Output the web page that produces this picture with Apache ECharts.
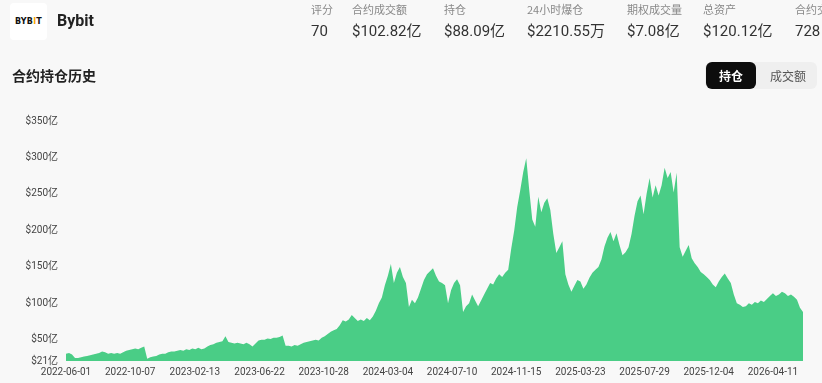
<!DOCTYPE html>
<html>
<head>
<meta charset="utf-8">
<script src="https://cdn.jsdelivr.net/npm/echarts@6/dist/echarts.min.js"></script>
<style>
  html, body { margin: 0; padding: 0; background: #f8f8f8; font-family: Roboto, "Noto Sans CJK SC", sans-serif; }
  #page { position: relative; width: 822px; height: 383px; overflow: hidden; }
  #chart { position: absolute; left: 0; top: 0; width: 822px; height: 383px; }
  .logo { position: absolute; left: 10px; top: 3px; width: 37px; height: 37px; background: #fff; border-radius: 4px;
    font: bold 8px "DejaVu Sans", sans-serif; color: #111; text-align: center; line-height: 37px; letter-spacing: 0.2px; }
  .logo span { color: #f7a600; }
  .name { position: absolute; left: 57px; top: 11px; font: bold 16px Roboto, sans-serif; color: #222; }
  .stat { position: absolute; top: 1px; white-space: nowrap; }
  .stat .k { font-size: 11px; color: #888; line-height: 16px; font-family: "Noto Sans CJK SC", sans-serif; }
  .stat .v { font-size: 15px; color: #333; line-height: 22px; margin-top: 3px; }
  .title { position: absolute; left: 12px; top: 65px; font: bold 14px "Noto Sans CJK SC", sans-serif; color: #222; }
  .toggle { position: absolute; left: 705px; top: 62px; width: 112px; height: 27px; background: #efefef; border-radius: 6px; }
  .toggle .on { position: absolute; left: 1px; top: 0; width: 50px; height: 27px; background: #0d0d0d; border-radius: 6px;
    color: #fff; font: bold 12px "Noto Sans CJK SC", sans-serif; text-align: center; line-height: 27px; }
  .toggle .off { position: absolute; left: 65px; top: 0; height: 27px; color: #555; font: 12px "Noto Sans CJK SC", sans-serif; line-height: 27px; }
</style>
</head>
<body>
<div id="page">
  <div id="chart"></div>
  <div class="logo">BYB<span>I</span>T</div>
  <div class="name">Bybit</div>
  <div id="stats"></div>
  <div class="title">合约持仓历史</div>
  <div class="toggle"><div class="on">持仓</div><div class="off">成交额</div></div>
</div>
<script>
// 顶部指标
const statNames = ['评分', '合约成交额', '持仓', '24小时爆仓', '期权成交量', '总资产', '合约交易对']
const statValues = ['70', '$102.82亿', '$88.09亿', '$2210.55万', '$7.08亿', '$120.12亿', '728']
const statLeft = [311, 352, 444, 527, 627, 703, 795]

// 持仓数据（亿美元），从 2022-06-01 起每 6 天一个点
const startDate = '2022-06-01'
const stepDays = 6
const oiValues = [
  31, 32, 30, 25, 25, 26, 27, 28, 29, 30, 31, 32, 34, 33, 31, 32, 31, 32, 31, 33,
  35, 36, 37, 38, 37, 39, 41, 24, 26, 27, 28, 30, 31, 31, 33, 34, 34, 35, 36, 35,
  37, 36, 38, 37, 39, 37, 38, 41, 43, 44, 46, 47, 48, 55, 47, 46, 45, 46, 45, 44,
  46, 44, 41, 45, 49, 50, 50, 52, 51, 53, 53, 54, 56, 42, 42, 41, 43, 42, 44, 46,
  47, 48, 49, 50, 49, 53, 55, 58, 61, 63, 65, 70, 77, 75, 78, 84, 80, 76, 78, 76,
  80, 77, 82, 90, 100, 108, 125, 138, 154, 128, 142, 150, 136, 128, 95, 105, 100, 108, 120, 132,
  140, 144, 148, 138, 130, 128, 125, 100, 118, 128, 133, 125, 88, 96, 100, 112, 104, 96, 104, 112,
  120, 128, 126, 134, 140, 136, 142, 146, 175, 200, 232, 255, 280, 299, 255, 215, 205, 246, 225, 238,
  244, 228, 195, 169, 177, 185, 140, 126, 116, 124, 132, 130, 120, 126, 135, 142, 146, 150, 160, 178,
  190, 198, 185, 196, 180, 166, 170, 177, 195, 220, 240, 248, 222, 250, 272, 245, 262, 248, 262, 286,
  272, 280, 252, 279, 177, 164, 172, 180, 162, 155, 150, 143, 140, 136, 132, 126, 122, 130, 136, 141,
  134, 128, 112, 100, 98, 95, 96, 100, 98, 102, 100, 104, 102, 106, 110, 114, 110, 112, 116, 114,
  110, 112, 109, 105, 94, 88
]

// 坐标轴刻度
const xTickLabels = ['2022-06-01', '2022-10-07', '2023-02-13', '2023-06-22', '2023-10-28', '2024-03-04',
  '2024-07-10', '2024-11-15', '2025-03-23', '2025-07-29', '2025-12-04', '2026-04-11']
const yTickLabels = [21, 50, 100, 150, 200, 250, 300, 350]

document.getElementById('stats').innerHTML = statNames.map((name, i) =>
  `<div class="stat" style="left:${statLeft[i]}px"><div class="k">${name}</div><div class="v">${statValues[i]}</div></div>`
).join('')

const DAY = 86400000
const t0 = new Date(startDate + 'T00:00:00').getTime()
const seriesData = oiValues.map((v, i) => [t0 + i * stepDays * DAY, v])

const chart = echarts.init(document.getElementById('chart'))
chart.setOption({
  animation: false,
  backgroundColor: 'transparent',
  grid: { left: 66, right: 19, top: 121, bottom: 22 },
  xAxis: {
    type: 'time',
    min: t0,
    max: seriesData[seriesData.length - 1][0],
    axisLine: { show: false },
    axisTick: { show: false },
    splitLine: { show: false },
    axisLabel: {
      customValues: xTickLabels.map(d => new Date(d + 'T00:00:00').getTime()),
      formatter: '{yyyy}-{MM}-{dd}',
      color: '#444',
      fontSize: 10,
      fontFamily: 'Roboto',
      margin: 6,
      hideOverlap: false
    }
  },
  yAxis: {
    type: 'value',
    min: 21,
    max: 350,
    axisLine: { show: false },
    axisTick: { show: false },
    splitLine: { show: false },
    axisLabel: {
      customValues: yTickLabels,
      formatter: '${value}亿',
      color: '#444',
      fontSize: 10,
      fontFamily: 'Roboto, "Noto Sans CJK SC"',
      margin: 8
    }
  },
  graphic: [{
    type: 'text',
    left: 700,
    top: 332,
    style: { text: 'coinglass', fill: 'rgba(120,120,120,0.14)', font: '13px Roboto' }
  }],
  series: [{
    type: 'line',
    data: seriesData,
    symbol: 'none',
    lineStyle: { width: 0 },
    areaStyle: { color: '#4acd86', opacity: 1 }
  }]
})
</script>
</body>
</html>
